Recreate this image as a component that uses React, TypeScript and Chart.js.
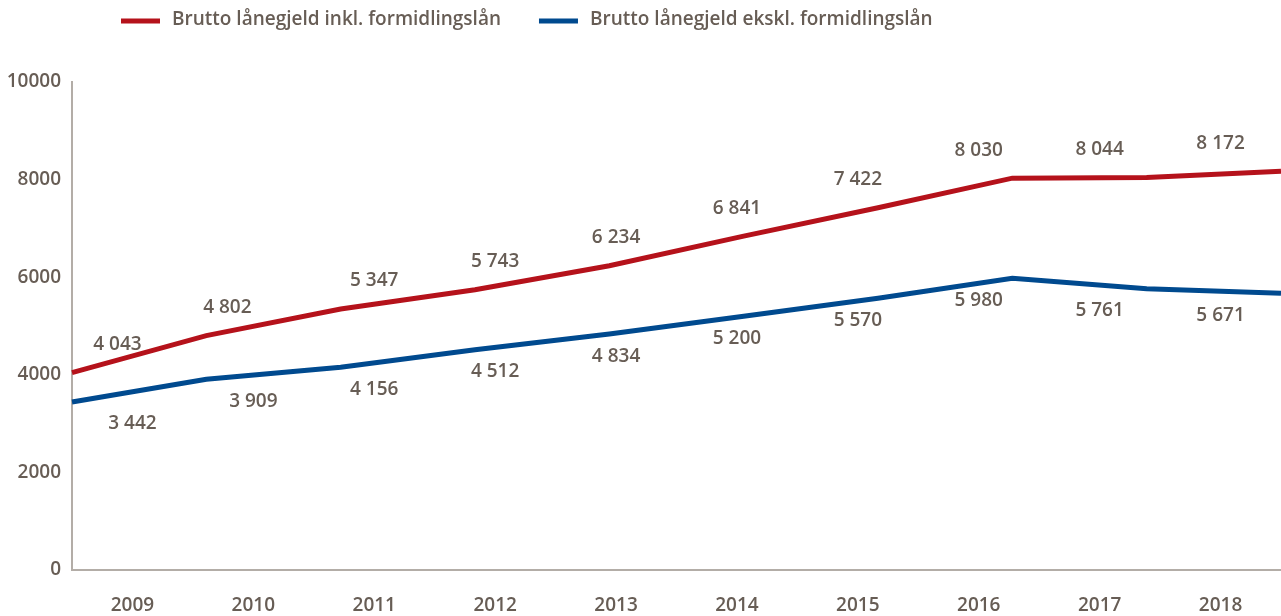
import React, { useEffect, useRef } from "react";
import { Chart, registerables } from "chart.js";

Chart.register(...registerables);

const years = ["2009", "2010", "2011", "2012", "2013", "2014", "2015", "2016", "2017", "2018"];
const inklValues = [4043, 4802, 5347, 5743, 6234, 6841, 7422, 8030, 8044, 8172];
const ekskValues = [3442, 3909, 4156, 4512, 4834, 5200, 5570, 5980, 5761, 5671];
const seriesNames = ["Brutto lånegjeld inkl. formidlingslån", "Brutto lånegjeld ekskl. formidlingslån"];
const yTicks = [0, 2000, 4000, 6000, 8000, 10000];

const RED = "#B5121B";
const BLUE = "#004A8F";
const TEXT = "#675D55";
const AXIS = "#B3ADA7";
const FONT_FAMILY = "'Open Sans', 'DejaVu Sans', sans-serif";
const FONT_SIZE = 19;
const FONT_WEIGHT = "600";

// label styling: vertical offset per series, small horizontal nudges for crowded labels
const labelOffsetY = [-28, 22];
const labelNudgeX = [
  [-15, -26, 0, 0, 0, 0, 0, 0, 0, 0],
  [0, 0, 0, 0, 0, 0, 0, 0, 0, 0],
];

const fmt = (v: number) => v.toString().replace(/\B(?=(\d{3})+(?!\d))/g, " ");

const labelsPlugin = {
  id: "valueLabels",
  afterDatasetsDraw(chart: any) {
    const ctx = chart.ctx;
    const xs = chart.scales.xBand;
    const ys = chart.scales.y;
    ctx.save();
    ctx.font = `${FONT_WEIGHT} ${FONT_SIZE}px ${FONT_FAMILY}`;
    ctx.fillStyle = TEXT;
    ctx.textAlign = "center";
    ctx.textBaseline = "middle";
    chart.data.datasets.forEach((ds: any, i: number) => {
      ds.data.forEach((v: number, j: number) => {
        const x = xs.getPixelForValue(j) + labelNudgeX[i][j];
        const y = ys.getPixelForValue(v) + labelOffsetY[i];
        ctx.fillText(fmt(v), x, y);
      });
    });
    ctx.restore();
  },
};

const legendPlugin = {
  id: "customLegend",
  afterDraw(chart: any) {
    const ctx = chart.ctx;
    ctx.save();
    ctx.font = `${FONT_WEIGHT} ${FONT_SIZE}px ${FONT_FAMILY}`;
    ctx.textBaseline = "middle";
    ctx.textAlign = "left";
    let x = 121;
    const y = 21;
    chart.data.datasets.forEach((ds: any) => {
      ctx.fillStyle = ds.borderColor;
      ctx.fillRect(x, y - 2.5, 39, 5);
      x += 39 + 12;
      ctx.fillStyle = TEXT;
      ctx.fillText(ds.label, x, y - 1);
      x += ctx.measureText(ds.label).width + 38;
    });
    ctx.restore();
  },
};

export default function App() {
  const ref = useRef<HTMLCanvasElement | null>(null);
  useEffect(() => {
    if (!ref.current) return;
    const font = { family: FONT_FAMILY, size: FONT_SIZE, weight: FONT_WEIGHT as any };
    const chart = new Chart(ref.current, {
      type: "line",
      data: {
        labels: years,
        datasets: [
          {
            label: seriesNames[0],
            data: inklValues,
            borderColor: RED,
            backgroundColor: RED,
            borderWidth: 5,
            pointRadius: 0,
            tension: 0,
            xAxisID: "x",
          },
          {
            label: seriesNames[1],
            data: ekskValues,
            borderColor: BLUE,
            backgroundColor: BLUE,
            borderWidth: 5,
            pointRadius: 0,
            tension: 0,
            xAxisID: "x",
          },
        ],
      },
      options: {
        animation: false,
        responsive: false,
        layout: { padding: { top: 82, left: 0, right: 0, bottom: 0 } },
        plugins: { legend: { display: false }, tooltip: { enabled: false } },
        scales: {
          x: {
            type: "category",
            display: false,
            offset: false,
          },
          xBand: {
            type: "category",
            position: "bottom",
            offset: true,
            grid: { display: false, drawTicks: false },
            border: { display: true, color: AXIS, width: 2 },
            ticks: { font, color: TEXT, padding: 24, maxRotation: 0, autoSkip: false },
            afterFit: (s: any) => {
              s.height = 46;
            },
          },
          y: {
            min: 0,
            max: 10000,
            afterBuildTicks: (s: any) => {
              s.ticks = yTicks.map((v) => ({ value: v }));
            },
            grid: { display: false, drawTicks: false },
            border: { display: true, color: AXIS, width: 2 },
            ticks: { font, color: TEXT, padding: 11, callback: (v: any) => String(v) },
            afterFit: (s: any) => {
              s.width = 72;
            },
          },
        },
      },
      plugins: [labelsPlugin, legendPlugin],
    });
    return () => chart.destroy();
  }, []);
  return (
    <div style={{ position: "absolute", left: 0, top: 0, width: 1281, height: 616, background: "#fff" }}>
      <canvas ref={ref} width={1281} height={616} />
    </div>
  );
}
